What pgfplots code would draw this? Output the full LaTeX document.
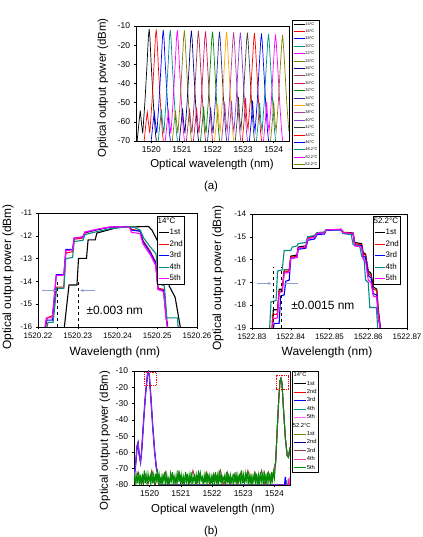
\documentclass[border=0pt]{standalone}
\usepackage{fontspec}
\setmainfont{Liberation Sans}
\usepackage{pgfplots}
\pgfplotsset{compat=1.18}
\usetikzlibrary{arrows.meta}
\definecolor{oBlack}{RGB}{0,0,0}
\definecolor{oRed}{RGB}{255,0,0}
\definecolor{oBlue}{RGB}{0,0,255}
\definecolor{oTeal}{RGB}{0,140,135}
\definecolor{oMag}{RGB}{255,0,255}
\definecolor{oOlive}{RGB}{128,128,0}
\definecolor{oNavy}{RGB}{0,0,128}
\definecolor{oWine}{RGB}{160,50,80}
\definecolor{oCrimson}{RGB}{210,20,90}
\definecolor{oGreen}{RGB}{0,140,0}
\definecolor{oRoyal}{RGB}{40,40,160}
\definecolor{oOrange}{RGB}{255,165,0}
\definecolor{oMauve}{RGB}{175,60,150}
\definecolor{oViolet}{RGB}{140,60,220}
\definecolor{oGray}{RGB}{60,60,60}
\definecolor{oBrown}{RGB}{150,60,60}
\definecolor{oPink}{RGB}{230,60,180}
\definecolor{arrowc}{RGB}{140,160,205}
\pgfplotsset{
  orig/.style={
    scale only axis,
    anchor=south west,
    axis line style={line width=0.6bp},
    tick align=outside,
    xtick pos=bottom, ytick pos=left,
    major tick length=2.5bp,
    every tick/.style={black, line width=0.5bp},
    ticklabel style={font=\fontsize{8.5}{9}\selectfont},
    /pgf/number format/assume math mode=true,
    /pgf/number format/1000 sep={},
    label style={font=\fontsize{11.5}{13}\selectfont},
    legend cell align=left,
  },
}
\begin{document}
\begin{tikzpicture}[x=1bp,y=1bp]
\path[use as bounding box] (0,0) rectangle (422,537);

% ---------------- panel (a)
\begin{axis}[orig, at={(136bp,396bp)}, width=153bp, height=115bp,
  xmin=1519.5, xmax=1524.5, ymin=-70, ymax=-10,
  xtick={1520,1521,1522,1523,1524}, ytick={-70,-60,-50,-40,-30,-20,-10},
  xlabel={Optical wavelength (nm)}, ylabel={Optical output power (dBm)},
  xlabel style={at={(axis description cs:0.497,-0.209)}, anchor=center},
  ylabel style={at={(axis description cs:-0.216,0.46)}, anchor=center},
  every axis plot/.append style={line width=0.7bp},
  legend style={at={(1.02,1.052)}, anchor=north west, font=\fontsize{4}{4.5}\selectfont,
    draw=black, inner xsep=1bp, inner ysep=1.5bp, row sep=3.1bp,
    nodes={inner sep=0.4bp, text height=3bp, text depth=0.5bp},
    /tikz/every even column/.append style={column sep=1.5bp}},
  legend image code/.code={\draw[#1] (0bp,0bp) -- (11bp,0bp);},
]
\addplot[oBlack] coordinates {(1519.53,-71)(1519.60,-60)(1519.64,-54)(1519.68,-61)(1519.72,-66)(1519.79,-50)(1519.86,-30)(1519.905,-15.7)(1519.93,-11.7)(1519.955,-16.2)(1520.00,-31)(1520.07,-51)(1520.13,-65)(1520.17,-71)};
\addlegendentry{14°C}
\addplot[oRed] coordinates {(1519.76,-71)(1519.83,-60)(1519.87,-55)(1519.91,-61)(1519.95,-66)(1520.02,-50)(1520.09,-30)(1520.135,-15.8)(1520.16,-11.8)(1520.185,-16.3)(1520.23,-31)(1520.30,-51)(1520.36,-65)(1520.40,-71)};
\addlegendentry{16°C}
\addplot[oBlue] coordinates {(1519.99,-71)(1520.06,-60)(1520.10,-55)(1520.14,-61)(1520.18,-66)(1520.25,-50)(1520.32,-30)(1520.365,-16)(1520.39,-12)(1520.415,-16.5)(1520.46,-31)(1520.53,-51)(1520.59,-65)(1520.63,-71)};
\addlegendentry{18°C}
\addplot[oTeal] coordinates {(1520.22,-71)(1520.29,-60)(1520.33,-53.5)(1520.37,-61)(1520.41,-66)(1520.48,-50)(1520.55,-30)(1520.595,-16)(1520.62,-12)(1520.645,-16.5)(1520.69,-31)(1520.76,-51)(1520.82,-65)(1520.86,-71)};
\addlegendentry{20°C}
\addplot[oMag] coordinates {(1520.45,-71)(1520.52,-60)(1520.56,-54.5)(1520.60,-61)(1520.64,-66)(1520.71,-50)(1520.78,-30)(1520.825,-16.2)(1520.85,-12.2)(1520.875,-16.7)(1520.92,-31)(1520.99,-51)(1521.05,-65)(1521.09,-71)};
\addlegendentry{22°C}
\addplot[oOlive] coordinates {(1520.68,-71)(1520.75,-60)(1520.79,-54)(1520.83,-61)(1520.87,-66)(1520.94,-50)(1521.01,-30)(1521.055,-16.3)(1521.08,-12.3)(1521.105,-16.8)(1521.15,-31)(1521.22,-51)(1521.28,-65)(1521.32,-71)};
\addlegendentry{24°C}
\addplot[oNavy] coordinates {(1520.91,-71)(1520.98,-60)(1521.02,-53)(1521.06,-61)(1521.10,-66)(1521.17,-50)(1521.24,-30)(1521.285,-16.5)(1521.31,-12.5)(1521.335,-17)(1521.38,-31)(1521.45,-51)(1521.51,-65)(1521.55,-71)};
\addlegendentry{26°C}
\addplot[oWine] coordinates {(1521.14,-71)(1521.21,-60)(1521.25,-53)(1521.29,-61)(1521.33,-66)(1521.40,-50)(1521.47,-30)(1521.515,-16.6)(1521.54,-12.6)(1521.565,-17.1)(1521.61,-31)(1521.68,-51)(1521.74,-65)(1521.78,-71)};
\addlegendentry{28°C}
\addplot[oCrimson] coordinates {(1521.37,-71)(1521.44,-60)(1521.48,-52.5)(1521.52,-61)(1521.56,-66)(1521.63,-50)(1521.70,-30)(1521.745,-16.8)(1521.77,-12.8)(1521.795,-17.3)(1521.84,-31)(1521.91,-51)(1521.97,-65)(1522.01,-71)};
\addlegendentry{30°C}
\addplot[oGreen] coordinates {(1521.60,-71)(1521.67,-60)(1521.71,-52)(1521.75,-61)(1521.79,-66)(1521.86,-50)(1521.93,-30)(1521.975,-16.9)(1522.00,-12.9)(1522.025,-17.4)(1522.07,-31)(1522.14,-51)(1522.20,-65)(1522.24,-71)};
\addlegendentry{32°C}
\addplot[oRoyal] coordinates {(1521.83,-71)(1521.90,-60)(1521.94,-52.5)(1521.98,-61)(1522.02,-66)(1522.09,-50)(1522.16,-30)(1522.205,-17)(1522.23,-13)(1522.255,-17.5)(1522.30,-31)(1522.37,-51)(1522.43,-65)(1522.47,-71)};
\addlegendentry{34°C}
\addplot[oOrange] coordinates {(1522.06,-71)(1522.13,-60)(1522.17,-50.5)(1522.21,-60)(1522.25,-65)(1522.32,-50)(1522.39,-30)(1522.435,-17.1)(1522.46,-13.1)(1522.485,-17.6)(1522.53,-31)(1522.60,-51)(1522.66,-65)(1522.70,-71)};
\addlegendentry{36°C}
\addplot[oMauve] coordinates {(1522.29,-71)(1522.36,-59)(1522.40,-49.5)(1522.44,-60)(1522.48,-65)(1522.55,-50)(1522.62,-30)(1522.665,-17.3)(1522.69,-13.3)(1522.715,-17.8)(1522.76,-31)(1522.83,-51)(1522.89,-65)(1522.93,-71)};
\addlegendentry{38°C}
\addplot[oViolet] coordinates {(1522.51,-71)(1522.58,-59)(1522.62,-49)(1522.66,-60)(1522.70,-65)(1522.77,-50)(1522.84,-30)(1522.885,-17.4)(1522.91,-13.4)(1522.935,-17.9)(1522.98,-31)(1523.05,-51)(1523.11,-65)(1523.15,-71)};
\addlegendentry{40°C}
\addplot[oGray] coordinates {(1522.74,-71)(1522.81,-58)(1522.85,-47)(1522.89,-59)(1522.93,-64)(1523.00,-50)(1523.07,-30)(1523.115,-17.5)(1523.14,-13.5)(1523.165,-18)(1523.21,-31)(1523.28,-51)(1523.34,-65)(1523.38,-71)};
\addlegendentry{42°C}
\addplot[oRed] coordinates {(1522.97,-71)(1523.04,-58)(1523.08,-47.5)(1523.12,-59)(1523.16,-64)(1523.23,-50)(1523.30,-30)(1523.345,-17.7)(1523.37,-13.7)(1523.395,-18.2)(1523.44,-31)(1523.51,-51)(1523.57,-65)(1523.61,-71)};
\addlegendentry{44°C}
\addplot[oBlue] coordinates {(1523.20,-71)(1523.27,-59)(1523.31,-49)(1523.35,-60)(1523.39,-65)(1523.46,-50)(1523.53,-30)(1523.575,-17.9)(1523.60,-13.9)(1523.625,-18.4)(1523.67,-31)(1523.74,-51)(1523.80,-65)(1523.84,-71)};
\addlegendentry{46°C}
\addplot[oTeal] coordinates {(1523.43,-71)(1523.50,-59)(1523.54,-50)(1523.58,-60)(1523.62,-65)(1523.69,-50)(1523.76,-30)(1523.805,-18.1)(1523.83,-14.1)(1523.855,-18.6)(1523.90,-31)(1523.97,-51)(1524.03,-65)(1524.07,-71)};
\addlegendentry{48.2°C}
\addplot[oMag] coordinates {(1523.66,-71)(1523.73,-59)(1523.77,-49.5)(1523.81,-60)(1523.85,-65)(1523.92,-50)(1523.99,-30)(1524.035,-18.4)(1524.06,-14.4)(1524.085,-18.9)(1524.13,-31)(1524.20,-51)(1524.26,-65)(1524.30,-71)};
\addlegendentry{50.2°C}
\addplot[oOlive] coordinates {(1523.89,-71)(1523.96,-59)(1524.00,-49)(1524.04,-60)(1524.08,-65)(1524.15,-50)(1524.22,-30)(1524.265,-18.7)(1524.29,-14.7)(1524.315,-19.2)(1524.36,-31)(1524.43,-51)(1524.49,-64)(1524.55,-60)};
\addlegendentry{52.2°C}
\end{axis}
\node[font=\fontsize{11.5}{13}\selectfont] at (211,350) {(a)};

% ---------------- panel (b) left : x = wavelength - 1520 nm
\begin{axis}[orig, at={(38bp,210bp)}, width=159bp, height=114bp,
  xmin=0.22, xmax=0.26, ymin=-16, ymax=-11,
  xtick={0.22,0.23,0.24,0.25,0.26}, xticklabels={1520.22,1520.23,1520.24,1520.25,1520.26},
  ytick={-16,-15,-14,-13,-12,-11},
  ticklabel style={font=\fontsize{8}{9}\selectfont},
  label style={font=\fontsize{12}{14}\selectfont},
  xlabel={Wavelength (nm)}, ylabel={Optical output power (dBm)},
  xlabel style={at={(axis description cs:0.484,-0.219)}, anchor=center},
  ylabel style={at={(axis description cs:-0.189,0.44)}, anchor=center},
  every axis plot/.append style={line width=1.1bp},
  legend style={at={(0.748,0.974)}, anchor=north west, font=\fontsize{8}{9}\selectfont,
    draw=black, inner xsep=1bp, inner ysep=1bp, row sep=3.2bp,
    nodes={inner sep=0.4bp, text height=5.8bp, text depth=1.7bp},
    /tikz/every even column/.append style={column sep=2bp}},
  legend image code/.code={\draw[#1] (0bp,0bp) -- (10bp,0bp);},
]
\addlegendimage{empty legend}\addlegendentry{\hspace{-12bp}14°C}
\addplot[oBlack] coordinates {(0.2265,-16.2)(0.2278,-14.16)(0.2298,-14.16)(0.2302,-12.99)(0.2322,-12.99)(0.2326,-12.18)(0.2344,-12.18)(0.2348,-11.88)(0.2378,-11.74)(0.2400,-11.63)(0.2478,-11.59)(0.2487,-11.76)(0.2503,-12.3)(0.2520,-13.0)(0.2530,-14.2)(0.2545,-14.7)(0.2560,-16.2)};
\addlegendentry{1st}
\addplot[oRed] coordinates {(0.2218,-16.2)(0.2223,-15.6)(0.2237,-15.5)(0.2246,-14.25)(0.2265,-14.25)(0.2270,-12.75)(0.2287,-12.7)(0.2291,-12.15)(0.2313,-12.1)(0.2318,-11.88)(0.2352,-11.72)(0.2378,-11.63)(0.2404,-11.6)(0.2430,-11.6)(0.2435,-11.72)(0.2457,-11.78)(0.2464,-12.2)(0.2483,-12.7)(0.2496,-13.15)(0.2502,-14.3)(0.2516,-14.35)(0.2522,-15.4)(0.2528,-16.2)};
\addlegendentry{2nd}
\addplot[oBlue] coordinates {(0.2216,-16.2)(0.2221,-15.7)(0.2236,-15.7)(0.2246,-13.7)(0.2265,-13.7)(0.2270,-12.6)(0.2287,-12.6)(0.2291,-12.1)(0.2313,-12.05)(0.2318,-11.85)(0.2352,-11.72)(0.2378,-11.63)(0.2404,-11.6)(0.2430,-11.6)(0.2435,-11.75)(0.2457,-11.8)(0.2464,-12.25)(0.2483,-12.75)(0.2496,-13.2)(0.2502,-14.35)(0.2516,-14.4)(0.2522,-15.5)(0.2527,-16.2)};
\addlegendentry{3rd}
\addplot[oTeal] coordinates {(0.2220,-16.2)(0.2225,-15.8)(0.2238,-15.8)(0.2247,-14.3)(0.2265,-14.3)(0.2270,-13.0)(0.2287,-12.95)(0.2291,-12.25)(0.2313,-12.2)(0.2318,-11.95)(0.2352,-11.8)(0.2378,-11.7)(0.2404,-11.65)(0.2430,-11.6)(0.2440,-11.62)(0.2457,-11.75)(0.2466,-12.1)(0.2483,-12.5)(0.2497,-12.8)(0.2505,-14.1)(0.2518,-14.2)(0.2524,-15.6)(0.2551,-15.6)(0.2553,-16.2)};
\addlegendentry{4th}
\addplot[oMag] coordinates {(0.2216,-16.2)(0.2221,-15.6)(0.2236,-15.6)(0.2246,-13.75)(0.2265,-13.72)(0.2270,-12.65)(0.2287,-12.62)(0.2291,-12.1)(0.2313,-12.05)(0.2318,-11.83)(0.2352,-11.7)(0.2378,-11.62)(0.2404,-11.6)(0.2430,-11.62)(0.2435,-11.85)(0.2457,-11.9)(0.2464,-12.35)(0.2483,-12.85)(0.2496,-13.3)(0.2502,-14.35)(0.2516,-14.45)(0.2522,-15.6)(0.2527,-16.2)};
\addlegendentry{5th}
\draw[dashed, line width=0.8bp] (axis cs:0.2249,-16) -- (axis cs:0.2249,-14.0);
\draw[dashed, line width=0.8bp] (axis cs:0.2302,-16) -- (axis cs:0.2302,-13.95);
\draw[-{Stealth[length=3.5bp,width=3bp]}, arrowc, line width=0.6bp] (axis cs:0.2209,-14.4) -- (axis cs:0.2246,-14.4);
\draw[-{Stealth[length=3.5bp,width=3bp]}, arrowc, line width=0.6bp] (axis cs:0.2343,-14.4) -- (axis cs:0.2306,-14.4);
\node[font=\fontsize{12}{14}\selectfont] at (axis cs:0.2393,-15.25) {±0.003 nm};
\end{axis}

% ---------------- panel (b) right : x = wavelength - 1522 nm
\begin{axis}[orig, at={(252bp,209bp)}, width=155bp, height=114bp,
  xmin=0.83, xmax=0.87, ymin=-19, ymax=-14,
  xtick={0.83,0.84,0.85,0.86,0.87}, xticklabels={1522.83,1522.84,1522.85,1522.86,1522.87},
  ytick={-19,-18,-17,-16,-15,-14},
  ticklabel style={font=\fontsize{8}{9}\selectfont},
  label style={font=\fontsize{12}{14}\selectfont},
  xlabel={Wavelength (nm)}, ylabel={Optical output power (dBm)},
  xlabel style={at={(axis description cs:0.484,-0.21)}, anchor=center},
  ylabel style={at={(axis description cs:-0.219,0.44)}, anchor=center},
  every axis plot/.append style={line width=1.1bp},
  legend style={at={(0.78,0.983)}, anchor=north west, font=\fontsize{8}{9}\selectfont,
    draw=black, inner xsep=1bp, inner ysep=1bp, row sep=3.2bp,
    nodes={inner sep=0.4bp, text height=5.8bp, text depth=1.7bp},
    /tikz/every even column/.append style={column sep=2bp}},
  legend image code/.code={\draw[#1] (0bp,0bp) -- (10bp,0bp);},
]
\addlegendimage{empty legend}\addlegendentry{\hspace{-12bp}52.2°C}
\addplot[oBlack] coordinates {(0.8352,-19.2)(0.8355,-18.2)(0.8366,-18.2)(0.8370,-17.3)(0.8378,-17.3)(0.8383,-16.45)(0.8396,-16.45)(0.8400,-15.85)(0.8416,-15.8)(0.8419,-15.45)(0.8439,-15.4)(0.8444,-15.0)(0.8461,-14.97)(0.8468,-14.82)(0.8487,-14.8)(0.8491,-14.7)(0.8530,-14.68)(0.8535,-14.8)(0.8561,-14.83)(0.8565,-15.25)(0.8583,-15.3)(0.8587,-15.7)(0.8593,-15.75)(0.8600,-16.5)(0.8607,-16.6)(0.8613,-17.2)(0.8622,-17.3)(0.8626,-18.2)(0.8633,-19.2)};
\addlegendentry{1st}
\addplot[oRed] coordinates {(0.8351,-19.2)(0.8353,-18.4)(0.8365,-18.4)(0.8370,-17.4)(0.8378,-17.35)(0.8383,-16.55)(0.8396,-16.5)(0.8400,-15.9)(0.8416,-15.85)(0.8419,-15.5)(0.8439,-15.45)(0.8444,-15.05)(0.8461,-15.0)(0.8468,-14.85)(0.8487,-14.82)(0.8491,-14.7)(0.8530,-14.67)(0.8535,-14.82)(0.8561,-14.85)(0.8565,-15.3)(0.8583,-15.35)(0.8587,-15.75)(0.8593,-15.8)(0.8600,-16.6)(0.8607,-16.7)(0.8613,-17.3)(0.8622,-17.35)(0.8626,-18.3)(0.8632,-19.2)};
\addlegendentry{2nd}
\addplot[oBlue] coordinates {(0.8354,-19.2)(0.8357,-18.8)(0.8370,-18.8)(0.8374,-17.6)(0.8383,-17.55)(0.8387,-16.95)(0.8396,-16.9)(0.8400,-15.95)(0.8416,-15.9)(0.8419,-15.55)(0.8439,-15.5)(0.8444,-15.15)(0.8461,-15.1)(0.8468,-14.9)(0.8487,-14.88)(0.8491,-14.72)(0.8530,-14.7)(0.8535,-14.85)(0.8561,-14.9)(0.8565,-15.35)(0.8583,-15.4)(0.8587,-15.85)(0.8593,-15.9)(0.8600,-16.7)(0.8607,-16.8)(0.8613,-17.5)(0.8622,-17.55)(0.8626,-18.6)(0.8634,-19.2)};
\addlegendentry{3rd}
\addplot[oTeal] coordinates {(0.8345,-19.2)(0.8349,-17.85)(0.8362,-17.8)(0.8366,-16.5)(0.8378,-16.45)(0.8383,-15.6)(0.8400,-15.6)(0.8404,-15.45)(0.8416,-15.4)(0.8419,-15.3)(0.8439,-15.25)(0.8444,-15.0)(0.8461,-14.95)(0.8468,-14.82)(0.8487,-14.8)(0.8491,-14.7)(0.8530,-14.68)(0.8535,-14.85)(0.8556,-14.9)(0.8561,-15.35)(0.8578,-15.4)(0.8583,-15.85)(0.8589,-15.95)(0.8593,-16.9)(0.8600,-17.0)(0.8604,-18.1)(0.8621,-18.1)(0.8625,-19.2)};
\addlegendentry{4th}
\addplot[oMag] coordinates {(0.8352,-19.2)(0.8355,-18.6)(0.8366,-18.55)(0.8370,-17.45)(0.8378,-17.4)(0.8383,-16.6)(0.8396,-16.55)(0.8400,-15.95)(0.8416,-15.9)(0.8419,-15.5)(0.8439,-15.45)(0.8444,-15.08)(0.8461,-15.03)(0.8468,-14.85)(0.8487,-14.83)(0.8491,-14.7)(0.8530,-14.67)(0.8535,-14.82)(0.8561,-14.86)(0.8565,-15.4)(0.8583,-15.45)(0.8587,-16.0)(0.8593,-16.05)(0.8600,-16.9)(0.8607,-17.0)(0.8613,-17.6)(0.8622,-17.65)(0.8626,-18.5)(0.8633,-19.2)};
\addlegendentry{5th}
\draw[dashed, line width=0.8bp] (axis cs:0.83548,-19) -- (axis cs:0.83548,-16.32);
\draw[dashed, line width=0.8bp] (axis cs:0.83765,-19) -- (axis cs:0.83765,-16.32);
\draw[-{Stealth[length=3.5bp,width=3bp]}, arrowc, line width=0.6bp] (axis cs:0.8313,-17.05) -- (axis cs:0.8350,-17.05);
\draw[-{Stealth[length=3.5bp,width=3bp]}, arrowc, line width=0.6bp] (axis cs:0.8419,-17.05) -- (axis cs:0.8381,-17.05);
\node[font=\fontsize{12}{14}\selectfont] at (axis cs:0.8483,-18.0) {±0.0015 nm};
\end{axis}

% ---------------- panel (b) bottom
\begin{axis}[orig, at={(134bp,52bp)}, width=156bp, height=114bp,
  xmin=1519.5, xmax=1524.5, ymin=-80, ymax=-10,
  xtick={1520,1521,1522,1523,1524}, ytick={-80,-70,-60,-50,-40,-30,-20,-10},
  xlabel={Optical wavelength (nm)}, ylabel={Optical output power (dBm)},
  xlabel style={at={(axis description cs:0.506,-0.219)}, anchor=center},
  ylabel style={at={(axis description cs:-0.186,0.39)}, anchor=center},
  every axis plot/.append style={line width=0.9bp},
  legend style={at={(1.013,1.0)}, anchor=north west, font=\fontsize{5.8}{6.5}\selectfont,
    draw=black, inner xsep=1bp, inner ysep=1bp, row sep=2.2bp,
    nodes={inner sep=0.4bp, text height=4.2bp, text depth=1.2bp},
    /tikz/every even column/.append style={column sep=1.5bp}},
  legend image code/.code={\draw[#1] (0bp,0bp) -- (12bp,0bp);},
]
\addlegendimage{empty legend}\addlegendentry{\hspace{-14bp}14°C}
\addplot[oBlack, line width=0.5bp] coordinates {(1519.50,-76)(1519.55,-68)(1519.60,-56)(1519.63,-54)(1519.67,-62)(1519.71,-66)(1519.75,-58)(1519.81,-40)(1519.87,-24)(1519.93,-12.5)(1519.96,-10.4)(1519.99,-12.5)(1520.04,-26)(1520.10,-44)(1520.16,-59)(1520.22,-70)(1520.27,-74)(1520.30,-80)(1524.50,-80)};
\addlegendentry{1st}
\addplot[oRed, line width=0.5bp] coordinates {(1519.50,-76)(1519.55,-68)(1519.60,-56)(1519.63,-54)(1519.67,-62)(1519.71,-66)(1519.75,-58)(1519.81,-40)(1519.87,-24)(1519.93,-12.5)(1519.96,-10.4)(1519.99,-12.5)(1520.04,-26)(1520.10,-44)(1520.16,-59)(1520.22,-70)(1520.27,-74)(1520.30,-80)(1524.44,-80)(1524.46,-76)(1524.48,-80)};
\addlegendentry{2nd}
\addplot[oBlue, line width=1.3bp] coordinates {(1519.50,-76)(1519.55,-68)(1519.60,-56)(1519.63,-54)(1519.67,-62)(1519.71,-66)(1519.75,-58)(1519.81,-40)(1519.87,-24)(1519.93,-12.5)(1519.96,-10.5)(1519.99,-12.5)(1520.04,-26)(1520.10,-44)(1520.16,-59)(1520.22,-70)(1520.27,-74)(1520.30,-80)(1524.33,-80)(1524.35,-75)(1524.37,-80)};
\addlegendentry{3rd}
\addplot[oTeal, line width=0.5bp] coordinates {(1519.50,-76)(1519.55,-68)(1519.60,-56)(1519.63,-54)(1519.67,-62)(1519.71,-66)(1519.75,-58)(1519.81,-40)(1519.87,-24)(1519.93,-12.5)(1519.96,-10.4)(1519.99,-12.5)(1520.04,-26)(1520.10,-44)(1520.16,-59)(1520.22,-70)(1520.27,-74)(1520.30,-80)(1524.38,-80)(1524.39,-77)(1524.40,-80)};
\addlegendentry{4th}
\addplot[oMag, line width=1.0bp, opacity=0.6] coordinates {(1519.50,-76)(1519.55,-68)(1519.60,-56)(1519.63,-54)(1519.67,-62)(1519.71,-66)(1519.75,-58)(1519.81,-40)(1519.87,-24)(1519.93,-12.5)(1519.96,-10.4)(1519.99,-12.5)(1520.04,-26)(1520.10,-44)(1520.16,-59)(1520.22,-70)(1520.27,-74)(1520.30,-80)(1524.42,-80)(1524.44,-76)(1524.46,-80)(1524.48,-77)(1524.50,-80)};
\addlegendentry{5th}
\addlegendimage{empty legend}\addlegendentry{\hspace{-14bp}52.2°C}
\addplot[oOlive] coordinates {(1523.96,-73)(1524.04,-66)(1524.09,-46)(1524.14,-27)(1524.18,-16)(1524.21,-14.5)(1524.24,-17)(1524.29,-33)(1524.35,-51)(1524.41,-62)(1524.45,-63)(1524.50,-57)};
\addlegendentry{1st}
\addplot[oNavy] coordinates {(1523.96,-73)(1524.04,-66)(1524.09,-46)(1524.14,-27)(1524.18,-16)(1524.21,-14.5)(1524.24,-17)(1524.29,-33)(1524.35,-51)(1524.41,-62)(1524.45,-63)(1524.50,-57)};
\addlegendentry{2nd}
\addplot[oBrown] coordinates {(1519.52,-79)(1519.63,-72)(1519.74,-80)(1519.85,-73)(1519.96,-79)(1520.07,-71)(1520.18,-80)(1520.29,-74)(1520.40,-79)(1520.51,-72)(1520.62,-80)(1520.73,-73)(1520.84,-79)(1520.95,-72)(1521.06,-80)(1521.17,-74)(1521.28,-79)(1521.39,-71)(1521.50,-80)(1521.61,-73)(1521.72,-79)(1521.83,-72)(1521.94,-80)(1522.05,-73)(1522.16,-79)(1522.27,-71)(1522.38,-80)(1522.49,-72)(1522.60,-79)(1522.71,-73)(1522.82,-80)(1522.93,-72)(1523.04,-79)(1523.15,-71)(1523.26,-80)(1523.37,-72)(1523.48,-79)(1523.59,-71)(1523.70,-80)(1523.81,-72)(1523.92,-78)(1524.04,-66)(1524.09,-46)(1524.14,-27)(1524.18,-16)(1524.21,-14.5)(1524.24,-17)(1524.29,-33)(1524.35,-51)(1524.41,-62)(1524.45,-63)(1524.50,-57)};
\addlegendentry{3rd}
\addplot[oPink] coordinates {(1523.96,-73)(1524.04,-66)(1524.09,-46)(1524.14,-27)(1524.18,-16)(1524.21,-14.5)(1524.24,-17)(1524.29,-33)(1524.35,-51)(1524.41,-62)(1524.45,-63)(1524.50,-57)};
\addlegendentry{4th}
\addplot[oGreen, line width=1.0bp] coordinates {(1519.50,-78)(1519.53,-73)(1519.56,-80)(1519.59,-74)(1519.62,-79)(1519.65,-72)(1519.68,-80)(1519.71,-75)(1519.74,-78)(1519.77,-73)(1519.80,-80)(1519.83,-71)(1519.86,-79)(1519.89,-74)(1519.92,-80)(1519.95,-73)(1519.98,-77)(1520.01,-75)(1520.04,-80)(1520.07,-72)(1520.10,-79)(1520.13,-74)(1520.16,-80)(1520.19,-73)(1520.22,-78)(1520.25,-70)(1520.28,-80)(1520.31,-74)(1520.34,-79)(1520.37,-75)(1520.40,-80)(1520.43,-73)(1520.46,-78)(1520.49,-72)(1520.52,-80)(1520.55,-74)(1520.58,-79)(1520.61,-76)(1520.64,-80)(1520.67,-73)(1520.70,-77)(1520.73,-72)(1520.76,-80)(1520.79,-75)(1520.82,-79)(1520.85,-74)(1520.88,-80)(1520.91,-71)(1520.94,-78)(1520.97,-73)(1521.00,-80)(1521.03,-74)(1521.06,-79)(1521.09,-75)(1521.12,-80)(1521.15,-72)(1521.18,-78)(1521.21,-73)(1521.24,-80)(1521.27,-74)(1521.30,-79)(1521.33,-72)(1521.36,-80)(1521.39,-75)(1521.42,-78)(1521.45,-73)(1521.48,-80)(1521.51,-74)(1521.54,-79)(1521.57,-71)(1521.60,-80)(1521.63,-73)(1521.66,-77)(1521.69,-75)(1521.72,-80)(1521.75,-74)(1521.78,-79)(1521.81,-72)(1521.84,-80)(1521.87,-73)(1521.90,-78)(1521.93,-74)(1521.96,-80)(1521.99,-75)(1522.02,-79)(1522.05,-73)(1522.08,-80)(1522.11,-72)(1522.14,-78)(1522.17,-74)(1522.20,-80)(1522.23,-71)(1522.26,-79)(1522.29,-73)(1522.32,-80)(1522.35,-75)(1522.38,-77)(1522.41,-74)(1522.44,-80)(1522.47,-72)(1522.50,-79)(1522.53,-73)(1522.56,-80)(1522.59,-74)(1522.62,-78)(1522.65,-75)(1522.68,-80)(1522.71,-73)(1522.74,-79)(1522.77,-72)(1522.80,-80)(1522.83,-74)(1522.86,-78)(1522.89,-73)(1522.92,-80)(1522.95,-71)(1522.98,-79)(1523.01,-74)(1523.04,-80)(1523.07,-73)(1523.10,-77)(1523.13,-72)(1523.16,-80)(1523.19,-74)(1523.22,-79)(1523.25,-73)(1523.28,-80)(1523.31,-75)(1523.34,-78)(1523.37,-72)(1523.40,-80)(1523.43,-73)(1523.46,-79)(1523.49,-74)(1523.52,-80)(1523.55,-72)(1523.58,-78)(1523.61,-73)(1523.64,-80)(1523.67,-71)(1523.70,-79)(1523.73,-73)(1523.76,-80)(1523.79,-72)(1523.82,-78)(1523.85,-73)(1523.88,-80)(1523.91,-72)(1523.94,-77)(1523.97,-72)(1524.00,-76)(1524.04,-66)(1524.09,-46)(1524.14,-27)(1524.18,-16)(1524.21,-14.5)(1524.24,-17)(1524.29,-33)(1524.35,-51)(1524.41,-62)(1524.45,-63)(1524.50,-57)};
\addlegendentry{5th}
\draw[red, densely dotted, line width=0.8bp] (axis cs:1519.82,-10.8) rectangle (axis cs:1520.21,-18.6);
\draw[red, densely dotted, line width=0.8bp] (axis cs:1524.05,-13.0) rectangle (axis cs:1524.44,-21.0);
\end{axis}
\node[font=\fontsize{11.5}{13}\selectfont] at (211,5) {(b)};
\end{tikzpicture}
\end{document}
